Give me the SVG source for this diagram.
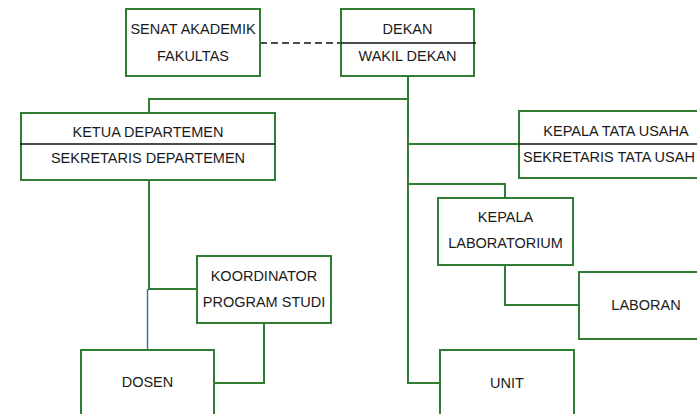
<svg xmlns="http://www.w3.org/2000/svg" width="697" height="414" viewBox="0 0 697 414">
<style>
.box{fill:#fff;stroke:#2f7d32;stroke-width:2}
.div{stroke:#111;stroke-width:1.5}
.con{fill:none;stroke:#2f7d32;stroke-width:2}
text{font-family:"Liberation Sans",Arial,sans-serif;font-size:14.5px;fill:#1a1a1a;text-anchor:middle}
</style>
<rect width="697" height="414" fill="#fff"/>
<g id="connectors">
<line x1="260" y1="43" x2="341" y2="43" stroke="#111" stroke-width="1.5" stroke-dasharray="7 4"/>
<polyline class="con" points="408,76 408,383 440,383"/>
<polyline class="con" points="408,99 149,99 149,113"/>
<line class="con" x1="408" y1="144" x2="519" y2="144"/>
<polyline class="con" points="408,184 505,184 505,198"/>
<polyline class="con" points="505,265 505,305 579,305"/>
<polyline class="con" points="149,180 149,289 197,289"/>
<line x1="147.5" y1="289" x2="147.5" y2="350" stroke="#3b7199" stroke-width="1.5"/>
<polyline class="con" points="264,323 264,383 214,383"/>
</g>
<g id="senat">
<rect class="box" x="126" y="9" width="134" height="67"/>
<text x="193" y="34">SENAT AKADEMIK</text>
<text x="193" y="61">FAKULTAS</text>
</g>
<g id="dekan">
<rect class="box" x="341" y="9" width="133" height="67"/>
<line class="div" x1="341" y1="43" x2="476" y2="43"/>
<text x="407.5" y="34">DEKAN</text>
<text x="407.5" y="61">WAKIL DEKAN</text>
</g>
<g id="ketua">
<rect class="box" x="21" y="113" width="254" height="67"/>
<line class="div" x1="20" y1="144" x2="275" y2="144"/>
<text x="148" y="137">KETUA DEPARTEMEN</text>
<text x="148" y="163">SEKRETARIS DEPARTEMEN</text>
</g>
<g id="kepala-tu">
<rect class="box" x="519" y="111" width="200" height="67"/>
<line class="div" x1="519" y1="144" x2="697" y2="144"/>
<text x="616" y="136">KEPALA TATA USAHA</text>
<text x="523" y="162" style="text-anchor:start">SEKRETARIS TATA USAH</text>
</g>
<g id="kepala-lab">
<rect class="box" x="438" y="198" width="135" height="67"/>
<text x="505.5" y="222">KEPALA</text>
<text x="505.5" y="248">LABORATORIUM</text>
</g>
<g id="laboran">
<rect class="box" x="579" y="272" width="140" height="67"/>
<text x="646" y="310">LABORAN</text>
</g>
<g id="koordinator">
<rect class="box" x="197" y="256" width="134" height="67"/>
<text x="264" y="281">KOORDINATOR</text>
<text x="264" y="307">PROGRAM STUDI</text>
</g>
<g id="dosen">
<rect class="box" x="81" y="350" width="133" height="80"/>
<text x="147.5" y="387">DOSEN</text>
</g>
<g id="unit">
<rect class="box" x="440" y="350" width="134" height="80"/>
<text x="507" y="388">UNIT</text>
</g>
</svg>
